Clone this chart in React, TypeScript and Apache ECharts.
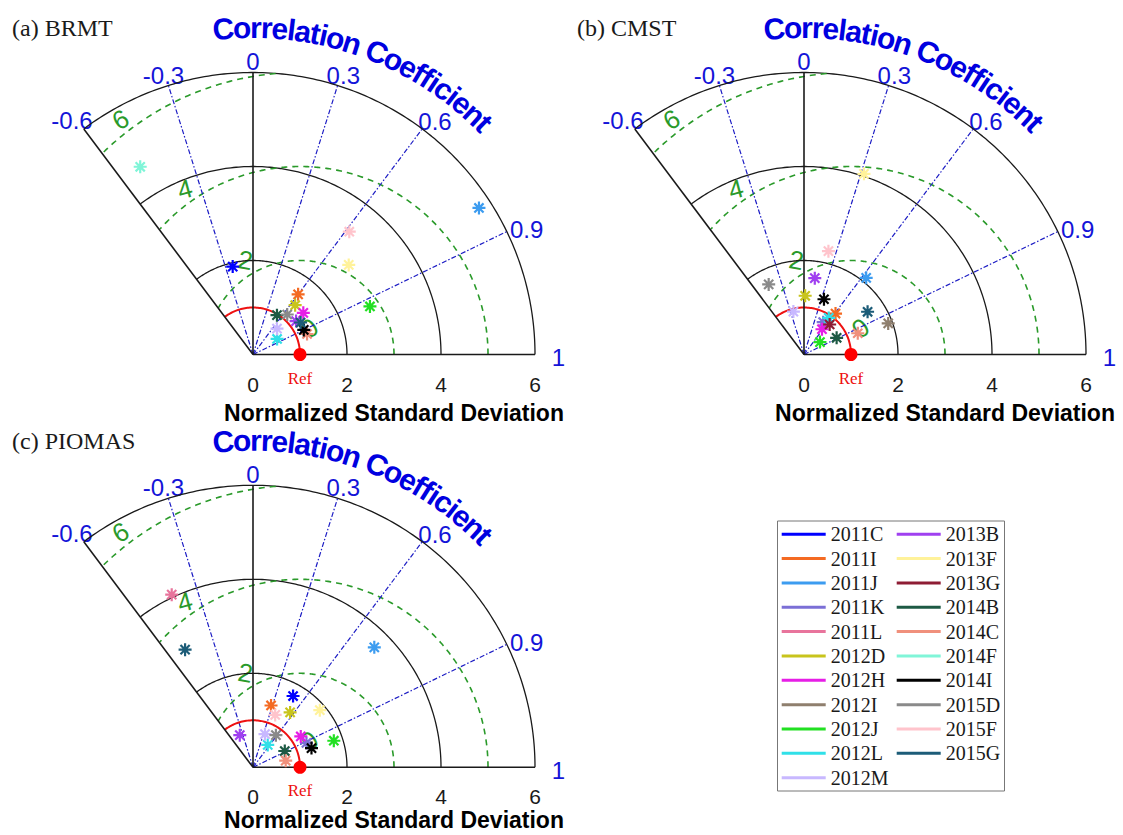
import React, { useEffect, useRef } from 'react';
import * as echarts from 'echarts';

// ---------------- data ----------------
const MODELS = ['2011C', '2011I', '2011J', '2011K', '2011L', '2012D', '2012H', '2012I', '2012J', '2012L', '2012M',
  '2013B', '2013F', '2013G', '2014B', '2014C', '2014F', '2014I', '2015D', '2015F', '2015G'];
const COLORS = ['#0000ff', '#f46a22', '#3c9cf0', '#7b6fd6', '#e8749c', '#c8c41c', '#e61ee6', '#8f7f6e', '#22e022', '#30e0e8', '#c8b8ff',
  '#a040f0', '#fff29a', '#8e1c34', '#1d5a44', '#f0907c', '#80f5d8', '#000000', '#8a8a8a', '#ffc4cc', '#1c5c78'];

// [normalized standard deviation, correlation coefficient]; null = not visible
const BRMT: (number[] | null)[] = [
  [1.92, -0.225], [1.60, 0.60], [5.73, 0.839], null, null, [1.38, 0.65], [1.39, 0.77], null, [2.69, 0.925], [0.61, 0.84], [0.75, 0.68],
  [1.16, 0.79], [2.79, 0.73], null, [0.98, 0.52], [1.23, 0.935], [4.66, -0.515], [1.20, 0.90], [1.12, 0.65], [3.32, 0.617], [1.22, 0.83],
];
const CMST: (number[] | null)[] = [
  null, [1.10, 0.61], [2.10, 0.63], [0.80, 0.51], null, [1.25, 0.02], [0.66, 0.58], [1.91, 0.938], [0.43, 0.79], [0.94, 0.56], [0.94, -0.24],
  [1.64, 0.14], [4.05, 0.315], [0.84, 0.65], [0.78, 0.89], [1.23, 0.93], null, [1.25, 0.34], [1.67, -0.45], [2.26, 0.23], [1.63, 0.83],
];
const PIOMAS: (number[] | null)[] = [
  [1.74, 0.49], [1.37, 0.28], [3.63, 0.711], [1.25, 0.91], [4.06, -0.426], [1.41, 0.56], [1.21, 0.84], null, [1.81, 0.95], [0.57, 0.55], [0.75, 0.34],
  [0.74, -0.38], [1.87, 0.76], null, [0.76, 0.89], [0.71, 0.98], null, [1.31, 0.95], [0.84, 0.58], [1.21, 0.39], [2.89, -0.50],
];
const PANEL_DATA = [BRMT, CMST, PIOMAS];
const PANEL_TITLES = ['(a) BRMT', '(b) CMST', '(c) PIOMAS'];

const CORR_TICKS = [-0.6, -0.3, 0, 0.3, 0.6, 0.9, 1];
const CORR_SOLID = [-0.6, 0, 1];
const CORR_DASHED = [-0.3, 0.3, 0.6, 0.9];
const STD_TICKS = [0, 2, 4, 6];
const STD_ARCS = [2, 4, 6];
const RMS_LEVELS = [2, 4, 6];
const RMS_LABELS = ['6', '4', '2', '0'];
const REF_STD = 1;
const MAX_STD = 6;
const MIN_CORR = -0.6;
const TITLE_TEXT = 'Correlation Coefficient';
const AXIS_TITLE = 'Normalized Standard Deviation';

// ---------------- layout / style ----------------
const UNIT = 47;
const PANELS = [
  { ox: 253, oy: 354.5 },
  { ox: 804, oy: 354.5 },
  { ox: 253, oy: 767.3 },
];
const CORR_LABEL_POS = [[-181, -234], [-89.5, -279.5], [0, -293], [90.3, -279.5], [182, -233], [273.7, -125.2], [305.3, 2.8]];
const RMS_LABEL_POS = [[-2.82, 5.0, 30], [-1.45, 3.52, 15], [-0.16, 2.01, -10], [1.2, 0.56, 35]];
const PANEL_TITLE_POS = [[12, 28], [577, 28], [12, 441]];
const SANS = '"Liberation Sans", Arial, Helvetica, sans-serif';
const SERIF = '"Liberation Serif", "Times New Roman", serif';
const BLUE = '#1414d8';
const GREEN = '#2a9a2a';
const ASTERISK = 'path://M0,-6L0,6M-6,0L6,0M-4.24,-4.24L4.24,4.24M-4.24,4.24L4.24,-4.24';
const TH_MAX = Math.acos(MIN_CORR);

function toXY(s: number, c: number) {
  return [s * c, s * Math.sqrt(Math.max(0, 1 - c * c))];
}
function arcPts(r: number) {
  const pts: number[][] = [];
  const N = 160;
  for (let k = 0; k <= N; k++) {
    const t = (TH_MAX * k) / N;
    pts.push([r * Math.cos(t), r * Math.sin(t)]);
  }
  return pts;
}
function rmsPts(R: number) {
  const pts: number[][] = [];
  const N = 400;
  for (let k = 0; k <= N; k++) {
    const p = (Math.PI * k) / N;
    const x = REF_STD + R * Math.cos(p);
    const y = R * Math.sin(p);
    if (Math.hypot(x, y) <= MAX_STD + 1e-9 && Math.atan2(y, x) <= TH_MAX + 1e-9) pts.push([x, y]);
  }
  return pts;
}

export default function App() {
  const ref = useRef<HTMLDivElement>(null);
  useEffect(() => {
    document.body.style.margin = '0';
    if (!ref.current) return;
    const chart = echarts.init(ref.current, null, { renderer: 'svg' });

    const grids: any[] = [];
    const xAxes: any[] = [];
    const yAxes: any[] = [];
    const series: any[] = [];
    const graphics: any[] = [];

    const canvas = document.createElement('canvas');
    const ctx = canvas.getContext('2d') as CanvasRenderingContext2D;
    const TITLE_FS = 30;
    ctx.font = `bold ${TITLE_FS}px "Liberation Sans"`;
    const chars = TITLE_TEXT.split('');
    const widths = chars.map((ch) => ctx.measureText(ch).width);
    const centers: number[] = [];
    let acc = 0;
    widths.forEach((w) => { centers.push(acc + w / 2); acc += w; });
    const th0 = (95.2 * Math.PI) / 180;
    const th1 = (45.0 * Math.PI) / 180;
    const s0 = centers[0];
    const s1 = centers[centers.length - 1];
    const R_TITLE = 327;

    PANELS.forEach((p, i) => {
      grids.push({ left: p.ox - 4 * UNIT, top: p.oy - 6.3 * UNIT, width: 10.5 * UNIT, height: 6.3 * UNIT, containLabel: false });
      xAxes.push({
        type: 'value', gridIndex: i, min: -4, max: 6.5, interval: 2,
        axisLine: { show: false }, axisTick: { show: false }, splitLine: { show: false },
        axisLabel: {
          formatter: (v: number) => (STD_TICKS.includes(v) ? String(v) : ''),
          fontSize: 21, fontFamily: SANS, color: '#1a1a1a', margin: 19, showMaxLabel: false,
        },
      });
      yAxes.push({ type: 'value', gridIndex: i, min: 0, max: 6.3, show: false });

      const base = { type: 'line', xAxisIndex: i, yAxisIndex: i, showSymbol: false, symbol: 'none', silent: true, clip: false, z: 1 };
      STD_ARCS.forEach((r) => series.push({ ...base, data: arcPts(r), lineStyle: { color: '#1a1a1a', width: 1.3, opacity: 1 } }));
      RMS_LEVELS.forEach((R) => series.push({ ...base, data: rmsPts(R), lineStyle: { color: GREEN, width: 1.6, type: [6, 5], opacity: 1 } }));
      CORR_DASHED.forEach((c) => series.push({ ...base, data: [[0, 0], toXY(MAX_STD, c)], lineStyle: { color: '#1c1cc4', width: 1.2, type: [5, 2, 1.5, 2], opacity: 1 } }));
      series.push({ ...base, data: arcPts(REF_STD), lineStyle: { color: '#ee1111', width: 2, opacity: 1 } });
      CORR_SOLID.forEach((c) => series.push({ ...base, data: [[0, 0], toXY(MAX_STD, c)], lineStyle: { color: '#1a1a1a', width: 1.6, opacity: 1 } }));

      const vals = PANEL_DATA[i];
      MODELS.forEach((name, k) => {
        const v = vals[k];
        series.push({
          type: 'scatter', name, xAxisIndex: i, yAxisIndex: i, clip: false, z: 3,
          data: v ? [toXY(v[0], v[1])] : [],
          symbol: ASTERISK, symbolSize: 13,
          itemStyle: { color: COLORS[k], borderColor: COLORS[k], borderWidth: 2.2, opacity: 1 },
          emphasis: { disabled: true },
        });
      });
      series.push({
        type: 'scatter', xAxisIndex: i, yAxisIndex: i, clip: false, z: 4, silent: true,
        data: [[REF_STD, 0]], symbol: 'circle', symbolSize: 13, itemStyle: { color: '#ff0000', opacity: 1 },
      });

      // texts
      graphics.push({
        type: 'text', x: PANEL_TITLE_POS[i][0], y: PANEL_TITLE_POS[i][1],
        style: { text: PANEL_TITLES[i], fontFamily: SERIF, fontSize: 24, fill: '#1a1a1a', align: 'left', verticalAlign: 'middle' },
      });
      CORR_TICKS.forEach((c, j) => {
        graphics.push({
          type: 'text', x: p.ox + CORR_LABEL_POS[j][0], y: p.oy + CORR_LABEL_POS[j][1],
          style: { text: String(c), fontFamily: SANS, fontSize: 24, fill: BLUE, align: 'center', verticalAlign: 'middle' },
        });
      });
      RMS_LABELS.forEach((t, j) => {
        const [dx, dy, rot] = RMS_LABEL_POS[j];
        graphics.push({
          type: 'text', x: p.ox + dx * UNIT, y: p.oy - dy * UNIT, rotation: (rot * Math.PI) / 180,
          style: { text: t, fontFamily: SANS, fontSize: 26, fill: GREEN, align: 'center', verticalAlign: 'middle' },
        });
      });
      graphics.push({
        type: 'text', x: p.ox + REF_STD * UNIT, y: p.oy + 23.5,
        style: { text: 'Ref', fontFamily: SERIF, fontSize: 17, fill: '#ee1111', align: 'center', verticalAlign: 'middle' },
      });
      graphics.push({
        type: 'text', x: p.ox + 141, y: Math.min(p.oy + 58, 820),
        style: { text: AXIS_TITLE, fontFamily: SANS, fontWeight: 'bold', fontSize: 23, fill: '#000', align: 'center', verticalAlign: 'middle' },
      });
      chars.forEach((ch, j) => {
        if (ch === ' ') return;
        const th = th0 - ((centers[j] - s0) / (s1 - s0)) * (th0 - th1);
        graphics.push({
          type: 'text', x: p.ox + R_TITLE * Math.cos(th), y: p.oy - R_TITLE * Math.sin(th), rotation: th - Math.PI / 2,
          style: { text: ch, fontFamily: SANS, fontWeight: 'bold', fontSize: TITLE_FS, fill: '#0000e0', align: 'center', verticalAlign: 'middle' },
        });
      });
    });

    // legend box
    graphics.push({
      type: 'rect', shape: { x: 777.5, y: 521, width: 227, height: 270 },
      style: { fill: '#fff', stroke: '#777', lineWidth: 1 }, z: -1,
    });

    const legendCommon = {
      orient: 'vertical', itemWidth: 44, itemHeight: 3, itemGap: 0, padding: 0, icon: 'rect', selectedMode: false,
      textStyle: { fontFamily: SERIF, fontSize: 20, color: '#1a1a1a', lineHeight: 24.35 },
      z: 5,
    };
    const legendItem = (n: string) => ({ name: n, itemStyle: { color: COLORS[MODELS.indexOf(n)], borderWidth: 0, opacity: 1 } });

    chart.setOption({
      animation: false,
      grid: grids,
      xAxis: xAxes,
      yAxis: yAxes,
      series,
      graphic: graphics,
      legend: [
        { ...legendCommon, left: 781.7, top: 522, data: MODELS.slice(0, 11).map(legendItem) },
        { ...legendCommon, left: 896.7, top: 522, data: MODELS.slice(11).map(legendItem) },
      ],
    });
    return () => chart.dispose();
  }, []);
  return <div ref={ref} style={{ position: 'absolute', left: 0, top: 0, width: 1123, height: 835 }} />;
}
